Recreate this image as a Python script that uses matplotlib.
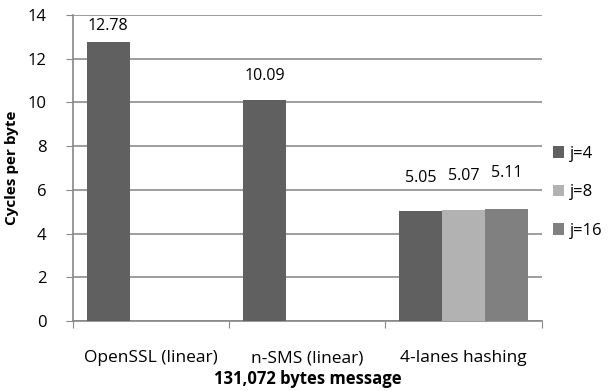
import matplotlib.pyplot as plt
import numpy as np

categories = ["OpenSSL (linear)", "n-SMS (linear)", "4-lanes hashing"]
series_names = ["j=4", "j=8", "j=16"]
j4 = [12.78, 10.09, 5.05]
j8 = [np.nan, np.nan, 5.07]
j16 = [np.nan, np.nan, 5.11]
colors = ["#606060", "#b2b2b2", "#808080"]

# gap (in pixels) between each bar top and its value label
label_gap = [[8, 16, 25], [0, 0, 26], [0, 0, 28]]

plt.rcParams['font.family'] = ['Open Sans', 'DejaVu Sans']

fig = plt.figure(figsize=(6.08, 3.91), dpi=100)
ax = fig.add_axes([0.12, 0.179, 0.771, 0.783])

x = np.arange(len(categories))
width = 0.274
for k, (vals, name, c) in enumerate(zip([j4, j8, j16], series_names, colors)):
    pos = x - width + k * width
    ax.bar(pos, vals, width, color=c, label=name, zorder=3)
    for i, (p, v) in enumerate(zip(pos, vals)):
        if not np.isnan(v):
            ax.annotate("%.2f" % v, (p, v), xytext=(0, label_gap[k][i] * 0.72),
                        textcoords="offset points", ha="center", va="bottom",
                        fontsize=11.5)

ax.set_xlim(-0.5, 2.5)
ax.set_ylim(0, 14)
ax.set_yticks(range(0, 15, 2))
ax.tick_params(axis="y", labelsize=12, length=5, color="#888888", pad=14)
ax.set_xticks([-0.5, 0.5, 1.5, 2.5], minor=False)
ax.set_xticklabels([])
ax.set_xticks(x, minor=True)
ax.set_xticklabels(categories, minor=True, fontsize=12.5)
ax.tick_params(axis="x", which="major", length=5, color="#888888")
ax.tick_params(axis="x", which="minor", length=0, pad=21)
ax.yaxis.grid(True, color="#8c8c8c", linewidth=1.2, zorder=0)
for s in ["top", "right"]:
    ax.spines[s].set_visible(False)
for s in ["left", "bottom"]:
    ax.spines[s].set_color("#888888")
    ax.spines[s].set_linewidth(1.2)

ax.set_ylabel("Cycles per byte", fontsize=11, fontweight="bold", labelpad=6)
ax.set_xlabel("131,072 bytes message", fontsize=12, fontweight="bold", labelpad=3)

ax.legend(loc="center left", bbox_to_anchor=(0.909, 0.508),
          bbox_transform=fig.transFigure, frameon=False, borderpad=0,
          borderaxespad=0, fontsize=12, handlelength=0.65, handleheight=0.65,
          labelspacing=1.35, handletextpad=0.4)

fig.savefig("out.png", dpi=100)
